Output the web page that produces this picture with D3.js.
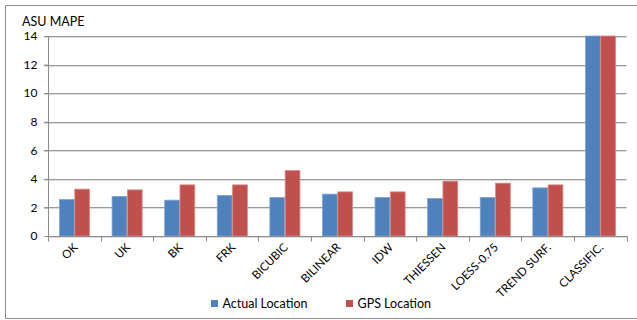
<!DOCTYPE html>
<html>
<head>
<meta charset="utf-8">
<script src="https://cdn.jsdelivr.net/npm/d3@7"></script>
<style>
  html, body { margin: 0; padding: 0; background: #fff; }
  svg { display: block; font-family: Lato, "Open Sans", sans-serif; }
</style>
</head>
<body>
<svg id="chart" width="637" height="320"></svg>
<script>
// Interpolation methods compared
const categories = ["OK", "UK", "BK", "FRK", "BICUBIC", "BILINEAR", "IDW", "THIESSEN", "LOESS-0.75", "TREND SURF.", "CLASSIFIC."];
const seriesNames = ["Actual Location", "GPS Location"];
// MAPE per method (the CLASSIFIC. bars run off the top of the axis)
const actualLocation = [2.56, 2.77, 2.51, 2.84, 2.70, 2.93, 2.70, 2.63, 2.70, 3.37, 14];
const gpsLocation    = [3.28, 3.23, 3.58, 3.58, 4.58, 3.09, 3.09, 3.84, 3.70, 3.58, 14];
const yTicks = [0, 2, 4, 6, 8, 10, 12, 14];
const colors = ["#4F81BD", "#C0504D"];
const strokes = ["#7FA3D3", "#D98B89"];

const svg = d3.select("#chart");
const plotLeft = 48, plotRight = 626.5, plotTop = 36, plotBottom = 236;

// outer frame
svg.append("path")
  .attr("d", "M637,5.5 H5.5 V318.5 H637")
  .attr("fill", "none").attr("stroke", "#8c8c8c").attr("stroke-width", 1);

const x0 = d3.scaleBand().domain(categories).range([plotLeft, plotRight]).paddingInner(0).paddingOuter(0);
const x1 = d3.scaleBand().domain(seriesNames).range([0, x0.bandwidth()]).paddingInner(0).paddingOuter(0.72);
const y = d3.scaleLinear().domain([0, 14]).range([plotBottom, plotTop]).clamp(true);

// gridlines
const grid = svg.append("g");
yTicks.filter(t => t > 0).forEach(t => {
  const yy = Math.round(y(t)) + 0.5;
  grid.append("line").attr("x1", plotLeft - 4).attr("x2", plotRight).attr("y1", yy + 1).attr("y2", yy + 1)
    .attr("stroke", "#dedede");
  grid.append("line").attr("x1", plotLeft - 4).attr("x2", plotRight).attr("y1", yy).attr("y2", yy)
    .attr("stroke", "#9a9a9a");
});

// bars
const rows = categories.map((c, i) => ({ c, vals: [actualLocation[i], gpsLocation[i]] }));
const groups = svg.append("g").selectAll("g").data(rows).join("g")
  .attr("transform", d => `translate(${x0(d.c)},0)`);
groups.selectAll("rect").data(d => d.vals.map((v, k) => ({ v, k, s: seriesNames[k] }))).join("rect")
  .attr("x", d => x1(d.s) + 0.5)
  .attr("width", x1.bandwidth() - 0.5)
  .attr("y", d => y(d.v))
  .attr("height", d => plotBottom - y(d.v))
  .attr("fill", d => colors[d.k])
  .attr("stroke", d => strokes[d.k])
  .attr("stroke-width", 0.8);

// y axis
const yAxis = svg.append("g").attr("transform", `translate(${plotLeft + 0.5},0)`)
  .call(d3.axisLeft(y).tickValues(yTicks).tickSize(4).tickPadding(7));
yAxis.select(".domain").attr("stroke", "#8c8c8c").attr("d", `M0,${plotTop}V${plotBottom}`);
yAxis.selectAll(".tick line").attr("stroke", "#8c8c8c");
yAxis.selectAll(".tick text").attr("font-size", 12).attr("fill", "#000").attr("font-family", "Lato, sans-serif");

// x axis with tick marks at category boundaries
const xAxisG = svg.append("g").attr("transform", `translate(0,${plotBottom + 0.5})`);
xAxisG.append("line").attr("x1", plotLeft).attr("x2", plotRight + 1).attr("y1", 0).attr("y2", 0)
  .attr("stroke", "#8c8c8c");
xAxisG.append("line").attr("x1", plotLeft).attr("x2", plotRight + 1).attr("y1", 1).attr("y2", 1)
  .attr("stroke", "#dedede");
const boundaries = categories.map(c => x0(c)).concat([plotRight]);
xAxisG.selectAll("line.tk").data(boundaries).join("line").attr("class", "tk")
  .attr("x1", d => Math.round(d) + 0.5).attr("x2", d => Math.round(d) + 0.5)
  .attr("y1", 0).attr("y2", 5).attr("stroke", "#8c8c8c");

// rotated category labels
svg.append("g").selectAll("text").data(categories).join("text")
  .attr("transform", d => `translate(${x0(d) + x0.bandwidth() / 2 + 4},${plotBottom + 12}) rotate(-45)`)
  .attr("text-anchor", "end")
  .attr("font-size", 11.5)
  .attr("fill", "#000")
  .text(d => d);

// axis title
svg.append("text").attr("x", 22).attr("y", 26).attr("font-size", 12.5).attr("fill", "#000").text("ASU MAPE");

// legend
const legendX = [211, 346];
const legend = svg.append("g").selectAll("g").data(seriesNames).join("g")
  .attr("transform", (d, i) => `translate(${legendX[i]},300)`);
legend.append("rect").attr("width", 7).attr("height", 7).attr("fill", (d, i) => colors[i]);
legend.append("text").attr("x", 11.5).attr("y", 7.5).attr("font-size", 12.5).attr("fill", "#000").text(d => d);
</script>
</body>
</html>
